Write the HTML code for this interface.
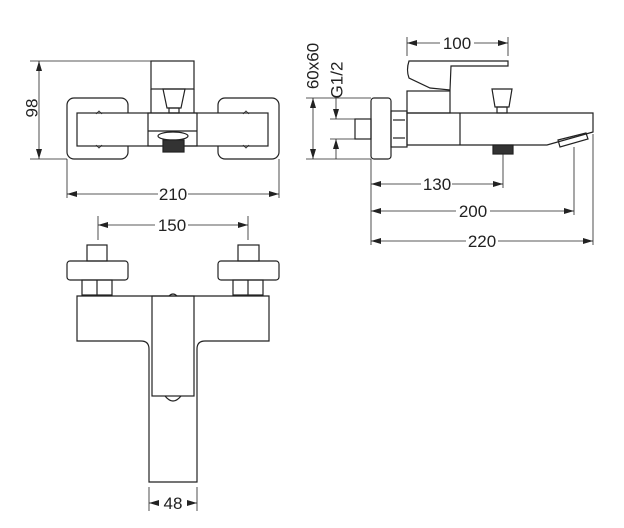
<!DOCTYPE html>
<html><head><style>body{margin:0;background:#fff}svg{display:block}text{font-family:"Liberation Sans",sans-serif;font-size:17px;fill:#222}</style></head>
<body>
<svg width="624" height="528" viewBox="0 0 624 528" xmlns="http://www.w3.org/2000/svg">
<defs>
<marker id="a" viewBox="0 0 10 6" refX="10" refY="3" markerWidth="10" markerHeight="6" orient="auto-start-reverse" markerUnits="userSpaceOnUse"><path d="M0,0 L10,3 L0,6z" fill="#222"/></marker>
</defs>
<g fill="none" stroke="#222" stroke-width="1.2">
<rect x="67" y="98" width="61" height="61" rx="7"/>
<rect x="218" y="98" width="61" height="61" rx="7"/>
<rect x="77" y="113" width="191" height="33" fill="#fff"/>
<rect x="148" y="113" width="49" height="33"/>
<line x1="148" y1="131" x2="197" y2="131"/>
<rect x="151" y="61" width="43" height="28"/>
<line x1="151" y1="89" x2="151" y2="113"/><line x1="194" y1="89" x2="194" y2="113"/>
<path d="M163,89 L185,89 L181,108 L167,108Z"/>
<rect x="169" y="108" width="10" height="5"/>
<path d="M96,114 l3,-3 l3,3 M243,114 l3,-3 l3,3 M96,145 l3,3 l3,-3 M243,145 l3,3 l3,-3" stroke-width="0.8"/>
<ellipse cx="173" cy="136" rx="15" ry="4"/>
<rect x="163" y="140" width="21" height="12" fill="#333"/>
<line x1="30" y1="61" x2="151" y2="61" stroke-width="0.8"/>
<line x1="30" y1="159" x2="67" y2="159" stroke-width="0.8"/>
<line x1="39" y1="61" x2="39" y2="159" stroke-width="0.8" marker-start="url(#a)" marker-end="url(#a)"/>
<line x1="67" y1="159" x2="67" y2="198" stroke-width="0.8"/><line x1="279" y1="159" x2="279" y2="198" stroke-width="0.8"/>
<line x1="67" y1="194" x2="158" y2="194" stroke-width="0.8" marker-start="url(#a)"/>
<line x1="188" y1="194" x2="279" y2="194" stroke-width="0.8" marker-end="url(#a)"/>
<rect x="371" y="98" width="20" height="61" rx="3"/>
<rect x="391" y="111" width="16" height="36"/>
<line x1="393" y1="120" x2="405" y2="120"/><line x1="393" y1="138" x2="405" y2="138"/>
<rect x="355" y="119" width="16" height="20"/>
<path d="M407,113 L593,113 L593,132 L547,145 L407,145Z"/>
<line x1="460" y1="113" x2="460" y2="145"/>
<path d="M558,140 L586,133 L588,139 L560,147Z"/>
<rect x="407" y="91" width="43" height="22"/>
<path d="M409,61 L508,61 L508,66 L451,66 L450,90 L430,88 L409,78 Q406,70 409,61Z"/>
<path d="M492,89 L512,89 L509,107 L495,107Z"/>
<rect x="497" y="107" width="10" height="6"/>
<rect x="493" y="145" width="20" height="9" fill="#333"/>
<line x1="407" y1="37" x2="407" y2="56" stroke-width="0.8"/><line x1="508" y1="37" x2="508" y2="56" stroke-width="0.8"/>
<line x1="407" y1="43" x2="440" y2="43" stroke-width="0.8" marker-start="url(#a)"/>
<line x1="474" y1="43" x2="508" y2="43" stroke-width="0.8" marker-end="url(#a)"/>
<line x1="306" y1="98" x2="371" y2="98" stroke-width="0.8"/><line x1="306" y1="159" x2="371" y2="159" stroke-width="0.8"/>
<line x1="313" y1="98" x2="313" y2="159" stroke-width="0.8" marker-start="url(#a)" marker-end="url(#a)"/>
<line x1="330" y1="119" x2="355" y2="119" stroke-width="0.8"/><line x1="330" y1="139" x2="355" y2="139" stroke-width="0.8"/>
<line x1="336" y1="98" x2="336" y2="119" stroke-width="0.8" marker-end="url(#a)"/>
<line x1="336" y1="159" x2="336" y2="139" stroke-width="0.8" marker-end="url(#a)"/>
<line x1="371" y1="159" x2="371" y2="245" stroke-width="0.8"/>
<line x1="503" y1="154" x2="503" y2="188" stroke-width="0.8"/>
<line x1="574" y1="147" x2="574" y2="215" stroke-width="0.8"/>
<line x1="593" y1="134" x2="593" y2="245" stroke-width="0.8"/>
<line x1="371" y1="184" x2="421" y2="184" stroke-width="0.8" marker-start="url(#a)"/>
<line x1="452" y1="184" x2="503" y2="184" stroke-width="0.8" marker-end="url(#a)"/>
<line x1="371" y1="211" x2="456" y2="211" stroke-width="0.8" marker-start="url(#a)"/>
<line x1="490" y1="211" x2="574" y2="211" stroke-width="0.8" marker-end="url(#a)"/>
<line x1="371" y1="241" x2="466" y2="241" stroke-width="0.8" marker-start="url(#a)"/>
<line x1="498" y1="241" x2="593" y2="241" stroke-width="0.8" marker-end="url(#a)"/>
<line x1="98" y1="216" x2="98" y2="240" stroke-width="0.8"/><line x1="248" y1="216" x2="248" y2="240" stroke-width="0.8"/>
<line x1="98" y1="225" x2="155" y2="225" stroke-width="0.8" marker-start="url(#a)"/>
<line x1="188" y1="225" x2="248" y2="225" stroke-width="0.8" marker-end="url(#a)"/>
<rect x="87" y="245" width="20" height="16"/><rect x="238" y="245" width="21" height="16"/>
<rect x="67" y="261" width="61" height="19" rx="3"/><rect x="218" y="261" width="61" height="19" rx="3"/>
<rect x="82" y="280" width="30" height="15"/><line x1="97" y1="280" x2="97" y2="295"/>
<rect x="233" y="280" width="30" height="15"/><line x1="248" y1="280" x2="248" y2="295"/>
<path d="M77,296 L269,296 L269,341 L205,341 Q197,341 197,349 L197,482 L149,482 L149,349 Q149,341 141,341 L77,341Z"/>
<rect x="152" y="296" width="42" height="100"/>
<path d="M165,396 Q173,406 181,396"/>
<path d="M169,296 Q173,292 177,296"/>
<line x1="149" y1="487" x2="149" y2="511" stroke-width="0.8"/><line x1="197" y1="487" x2="197" y2="511" stroke-width="0.8"/>
<line x1="159" y1="503" x2="149" y2="503" stroke-width="0.8" marker-end="url(#a)"/>
<line x1="187" y1="503" x2="197" y2="503" stroke-width="0.8" marker-end="url(#a)"/>
</g>
<text x="33" y="108" text-anchor="middle" transform="rotate(-90 33 108)" dominant-baseline="middle">98</text>
<text x="173" y="200" text-anchor="middle">210</text>
<text x="457" y="49" text-anchor="middle">100</text>
<text x="314" y="66" text-anchor="middle" transform="rotate(-90 314 66)" dominant-baseline="middle">60x60</text>
<text x="338" y="80" text-anchor="middle" transform="rotate(-90 338 80)" dominant-baseline="middle">G1/2</text>
<text x="437" y="190" text-anchor="middle">130</text>
<text x="473" y="217" text-anchor="middle">200</text>
<text x="482" y="247" text-anchor="middle">220</text>
<text x="172" y="231" text-anchor="middle">150</text>
<text x="173" y="509" text-anchor="middle">48</text>
</svg>
</body></html>
